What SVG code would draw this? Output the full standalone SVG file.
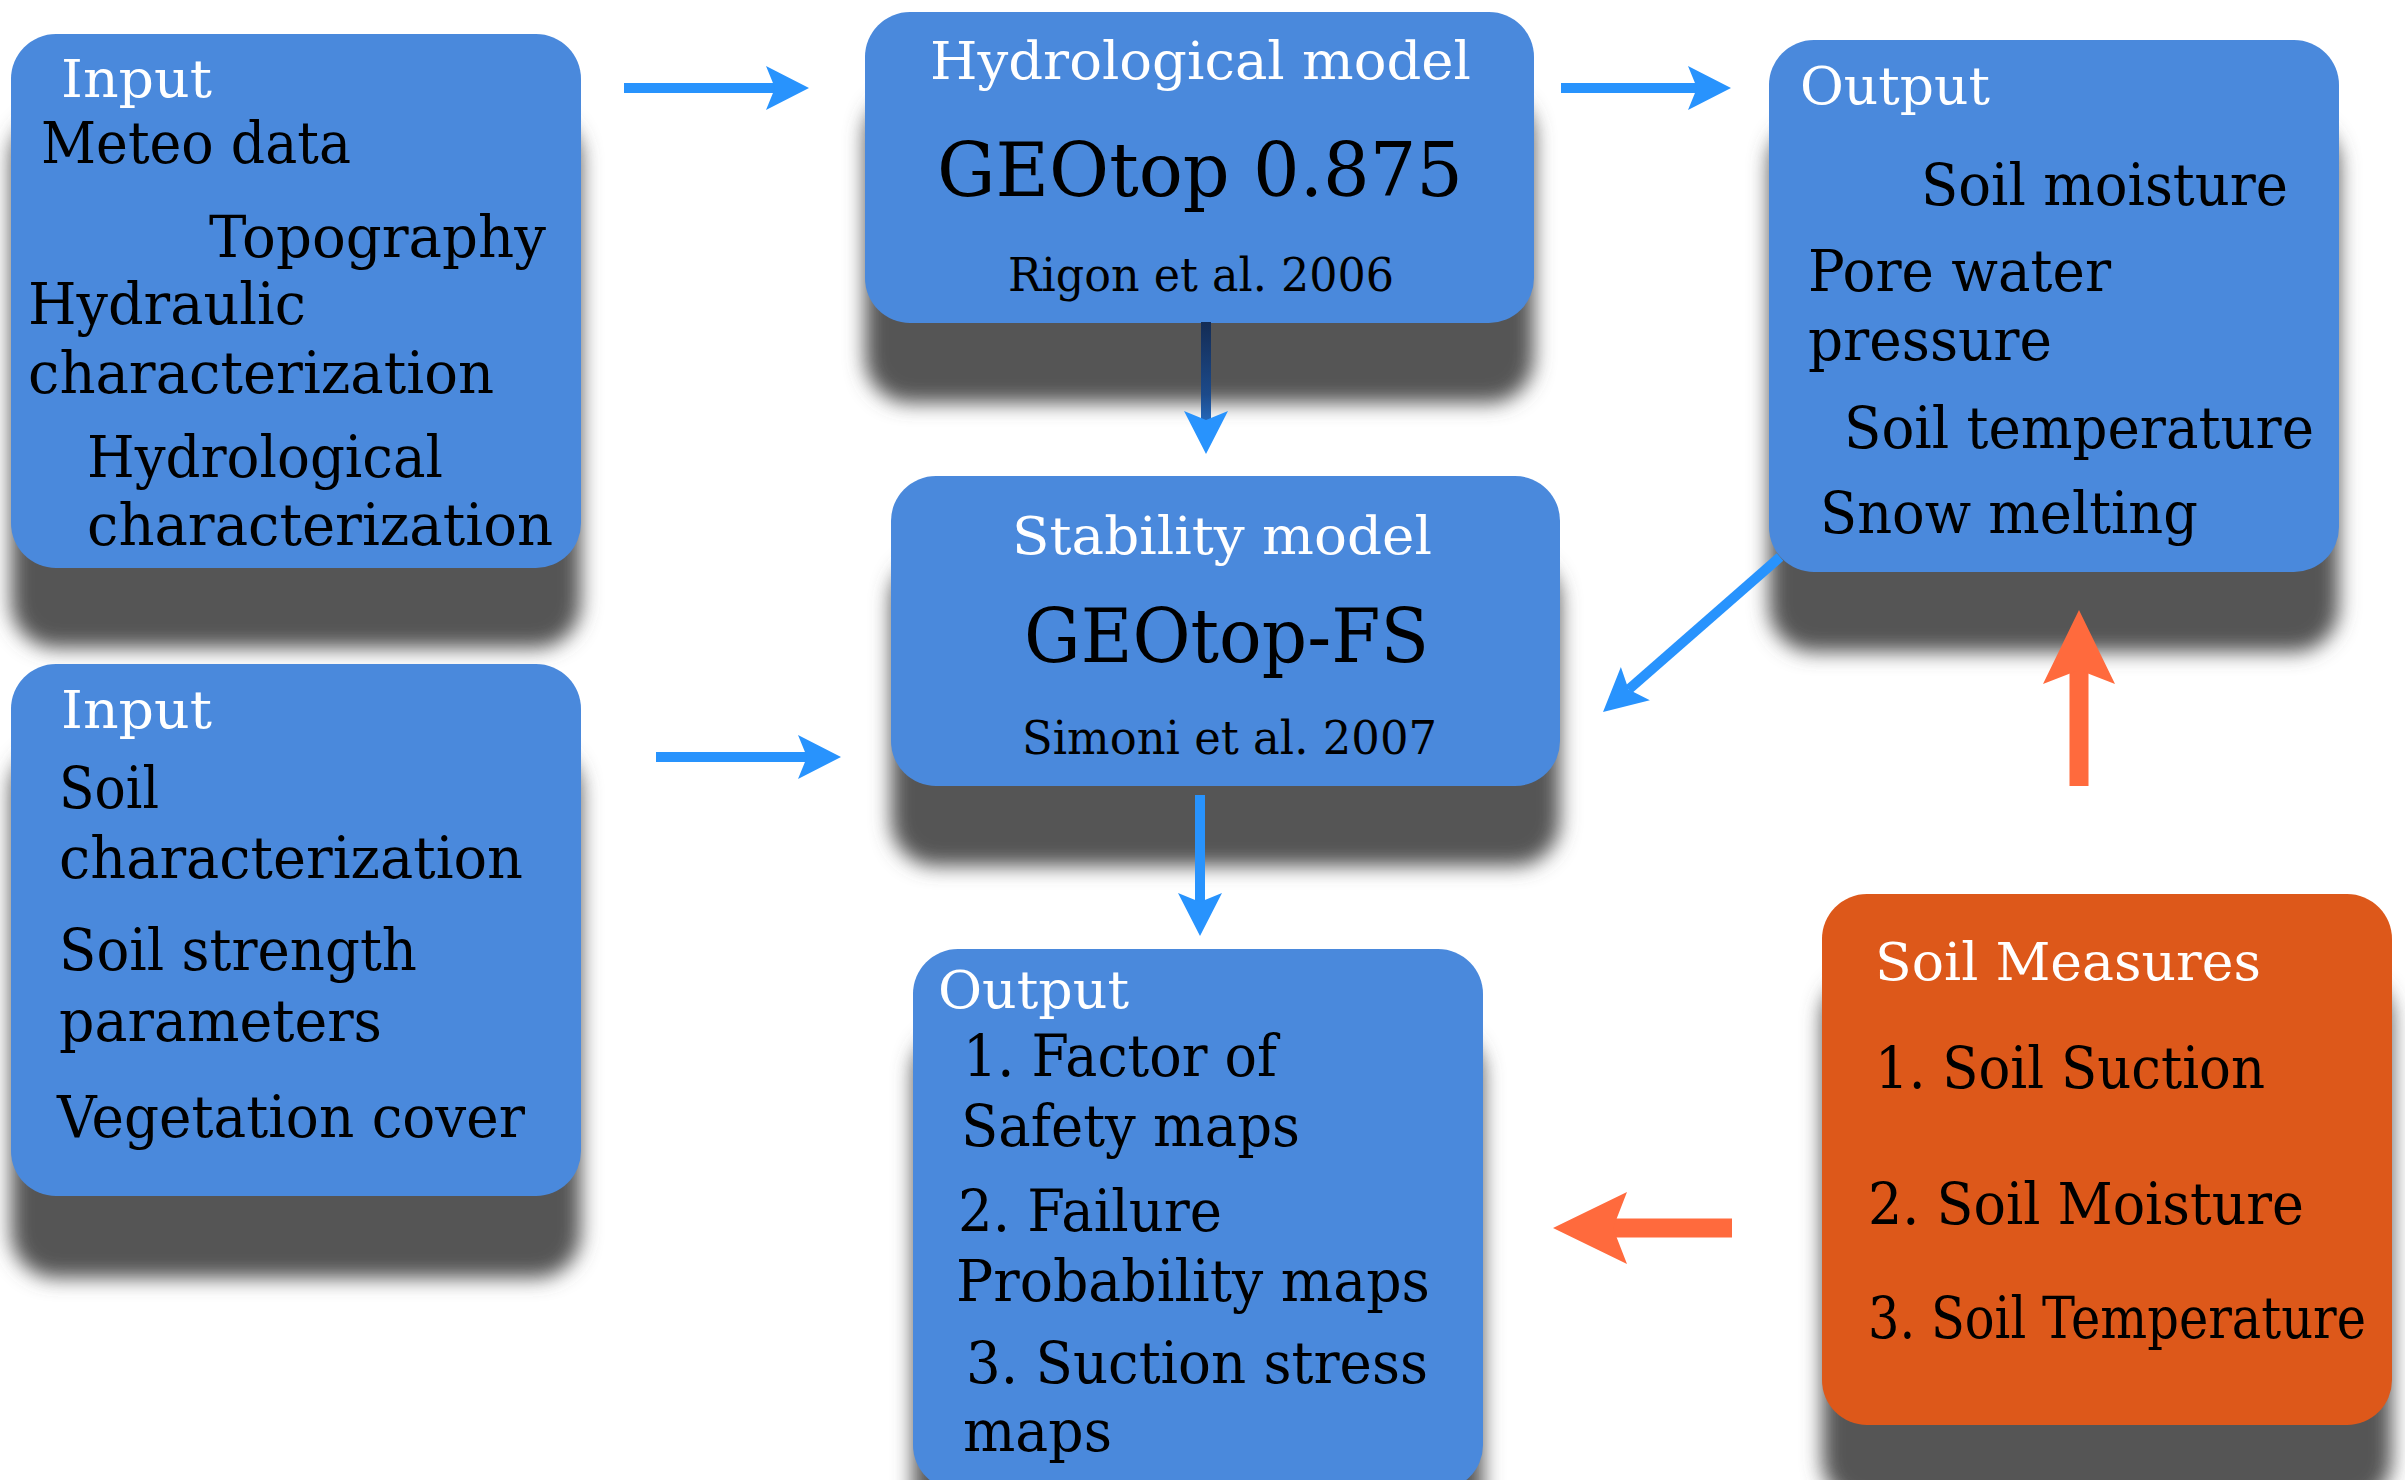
<svg xmlns="http://www.w3.org/2000/svg" width="2405" height="1480" viewBox="0 0 2405 1480">
<defs>
  <filter id="shadow" x="-10%" y="-10%" width="120%" height="120%">
    <feGaussianBlur stdDeviation="10"/>
  </filter>
  <marker id="headBlue" markerUnits="userSpaceOnUse" orient="auto" markerWidth="50" markerHeight="50" viewBox="0 -25 45 50" refX="9" refY="0">
    <path d="M43,0 L0,-22 L9,0 L0,22 Z" fill="#2893FD"/>
  </marker>
  <marker id="headOrange" markerUnits="userSpaceOnUse" orient="auto" markerWidth="80" markerHeight="80" viewBox="0 -40 76 80" refX="14" refY="0">
    <path d="M74,0 L0,-36 L14,0 L0,36 Z" fill="#FF6A3D"/>
  </marker>
  <linearGradient id="darkBlue" gradientUnits="userSpaceOnUse" x1="0" y1="322" x2="0" y2="454">
    <stop offset="0" stop-color="#142C55"/>
    <stop offset="0.55" stop-color="#1C4A8A"/>
    <stop offset="1" stop-color="#2F8CF5"/>
  </linearGradient>
</defs>
<style>
  .shadow { fill: #555555; filter: url(#shadow); }
  .blue { fill: #4A89DC; }
  .orange { fill: #DD581A; }
  text { font-family: "DejaVu Serif", "Liberation Serif", serif; }
  .title { fill: #FFFFFF; font-size: 52px; }
  .body { fill: #000000; font-size: 57px; }
  .big { fill: #000000; font-size: 75px; }
  .cite { fill: #000000; font-size: 46px; }
  .ab { fill: none; stroke: #2893FD; stroke-width: 10; marker-end: url(#headBlue); }
  .ao { fill: none; stroke: #FF6A3D; stroke-width: 19; marker-end: url(#headOrange); }
</style>
<rect width="2405" height="1480" fill="#FFFFFF"/>

<g id="input-top">
  <rect class="shadow" x="11" y="114" width="570" height="534" rx="45"/>
  <rect class="blue" x="11" y="34" width="570" height="534" rx="45"/>
  <text class="title" x="61" y="97" textLength="151" lengthAdjust="spacingAndGlyphs">Input</text>
  <text class="body" x="41" y="163" textLength="310" lengthAdjust="spacingAndGlyphs">Meteo data</text>
  <text class="body" x="209" y="257" textLength="337" lengthAdjust="spacingAndGlyphs">Topography</text>
  <text class="body" x="28" y="324" textLength="278" lengthAdjust="spacingAndGlyphs">Hydraulic</text>
  <text class="body" x="28" y="393" textLength="466" lengthAdjust="spacingAndGlyphs">characterization</text>
  <text class="body" x="87" y="477" textLength="356" lengthAdjust="spacingAndGlyphs">Hydrological</text>
  <text class="body" x="87" y="545" textLength="466" lengthAdjust="spacingAndGlyphs">characterization</text>
</g>

<g id="hydrological-model">
  <rect class="shadow" x="865" y="92" width="669" height="311" rx="45"/>
  <rect class="blue" x="865" y="12" width="669" height="311" rx="45"/>
  <text class="title" x="930" y="79" textLength="541" lengthAdjust="spacingAndGlyphs">Hydrological model</text>
  <text class="big" x="937" y="196" textLength="526" lengthAdjust="spacingAndGlyphs">GEOtop 0.875</text>
  <text class="cite" x="1008" y="291" textLength="386" lengthAdjust="spacingAndGlyphs">Rigon et al. 2006</text>
</g>

<g id="stability-model">
  <rect class="shadow" x="891" y="556" width="669" height="310" rx="45"/>
  <rect class="blue" x="891" y="476" width="669" height="310" rx="45"/>
  <text class="title" x="1012" y="554" textLength="420" lengthAdjust="spacingAndGlyphs">Stability model</text>
  <text class="big" x="1024" y="662" textLength="405" lengthAdjust="spacingAndGlyphs">GEOtop-FS</text>
  <text class="cite" x="1022" y="754" textLength="415" lengthAdjust="spacingAndGlyphs">Simoni et al. 2007</text>
</g>

<g id="output-hydro">
  <rect class="shadow" x="1769" y="120" width="570" height="532" rx="45"/>
  <rect class="blue" x="1769" y="40" width="570" height="532" rx="45"/>
  <text class="title" x="1800" y="104" textLength="190" lengthAdjust="spacingAndGlyphs">Output</text>
  <text class="body" x="1921" y="205" textLength="367" lengthAdjust="spacingAndGlyphs">Soil moisture</text>
  <text class="body" x="1808" y="291" textLength="303" lengthAdjust="spacingAndGlyphs">Pore water</text>
  <text class="body" x="1808" y="360" textLength="244" lengthAdjust="spacingAndGlyphs">pressure</text>
  <text class="body" x="1844" y="448" textLength="470" lengthAdjust="spacingAndGlyphs">Soil temperature</text>
  <text class="body" x="1820" y="533" textLength="378" lengthAdjust="spacingAndGlyphs">Snow melting</text>
</g>

<g id="input-bottom">
  <rect class="shadow" x="11" y="746" width="570" height="532" rx="45"/>
  <rect class="blue" x="11" y="664" width="570" height="532" rx="45"/>
  <text class="title" x="61" y="728" textLength="151" lengthAdjust="spacingAndGlyphs">Input</text>
  <text class="body" x="59" y="808" textLength="100" lengthAdjust="spacingAndGlyphs">Soil</text>
  <text class="body" x="59" y="878" textLength="464" lengthAdjust="spacingAndGlyphs">characterization</text>
  <text class="body" x="59" y="970" textLength="358" lengthAdjust="spacingAndGlyphs">Soil strength</text>
  <text class="body" x="59" y="1041" textLength="323" lengthAdjust="spacingAndGlyphs">parameters</text>
  <text class="body" x="57" y="1137" textLength="468" lengthAdjust="spacingAndGlyphs">Vegetation cover</text>
</g>

<g id="output-stability">
  <rect class="shadow" x="913" y="1029" width="570" height="541" rx="45"/>
  <rect class="blue" x="913" y="949" width="570" height="541" rx="45"/>
  <text class="title" x="938" y="1008" textLength="191" lengthAdjust="spacingAndGlyphs">Output</text>
  <text class="body" x="963" y="1076" textLength="314" lengthAdjust="spacingAndGlyphs">1. Factor of</text>
  <text class="body" x="961" y="1146" textLength="339" lengthAdjust="spacingAndGlyphs">Safety maps</text>
  <text class="body" x="958" y="1231" textLength="264" lengthAdjust="spacingAndGlyphs">2. Failure</text>
  <text class="body" x="956" y="1301" textLength="474" lengthAdjust="spacingAndGlyphs">Probability maps</text>
  <text class="body" x="966" y="1383" textLength="462" lengthAdjust="spacingAndGlyphs">3. Suction stress</text>
  <text class="body" x="963" y="1451" textLength="149" lengthAdjust="spacingAndGlyphs">maps</text>
</g>

<g id="soil-measures">
  <rect class="shadow" x="1822" y="974" width="570" height="531" rx="45"/>
  <rect class="orange" x="1822" y="894" width="570" height="531" rx="45"/>
  <text class="title" x="1875" y="980" textLength="386" lengthAdjust="spacingAndGlyphs">Soil Measures</text>
  <text class="body" x="1875" y="1088" textLength="390" lengthAdjust="spacingAndGlyphs">1. Soil Suction</text>
  <text class="body" x="1868" y="1224" textLength="436" lengthAdjust="spacingAndGlyphs">2. Soil Moisture</text>
  <text class="body" x="1868" y="1338" font-size="54" textLength="498" lengthAdjust="spacingAndGlyphs">3. Soil Temperature</text>
</g>

<g id="connectors">
  <path class="ab" d="M624,88 L775,88"/>
  <path class="ab" d="M1561,88 L1697,88"/>
  <path class="ab" d="M1206,322 L1206,420" style="stroke:url(#darkBlue)"/>
  <path class="ab" d="M656,757 L807,757"/>
  <path class="ab" d="M1200,795 L1200,902"/>
  <path class="ab" d="M1780,557 L1628.6,689.6"/>
  <path class="ao" d="M2079,786 L2079,670"/>
  <path class="ao" d="M1732,1228 L1613,1228"/>
</g>
</svg>
